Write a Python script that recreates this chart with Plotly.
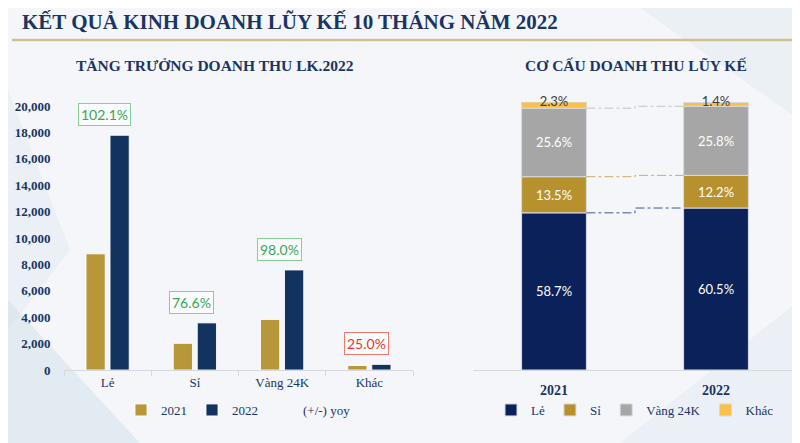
import numpy as np
import plotly.graph_objects as go

# ---------------- data ----------------
categories = ['Lẻ', 'Sỉ', 'Vàng 24K', 'Khác']
rev_2021 = [8800, 2020, 3830, 340]
rev_2022 = [17780, 3570, 7580, 425]
yoy_pct = [102.1, 76.6, 98.0, 25.0]

years = ['2021', '2022']
share_2021 = [58.7, 13.5, 25.6, 2.3]
share_2022 = [60.5, 12.2, 25.8, 1.4]

y_ticks = [0, 2000, 4000, 6000, 8000, 10000, 12000, 14000, 16000, 18000, 20000]

# ---------------- style ----------------
NAVY_TXT = '#1b3563'
GOLD = '#b8963a'
NAVY = '#12335f'
SEG_COLORS = ['#0a2159', '#b8912f', '#a6a6a6', '#f8c14a']
CONNECTOR_COLORS = ['#3f5a92', '#c9ad6a', '#c4c4c4']
SERIF = 'Liberation Serif'
SANS = 'Lato'

# page has an 8px body margin: the figure starts at (8, 8) in the window
OFF = 8
W, H = 800 - OFF, 443 - OFF


def px(x):
    return (x - OFF) / W


def py(y):
    return 1 - (y - OFF) / H


fig = go.Figure()

# ---------- left chart: grouped bars ----------
fig.add_trace(go.Bar(
    x=categories, y=rev_2021, name='2021', marker=dict(color=GOLD, line=dict(color='rgba(255,255,255,0.85)', width=1)),
    xaxis='x', yaxis='y', legend='legend', hoverinfo='skip'))
fig.add_trace(go.Bar(
    x=categories, y=rev_2022, name='2022', marker=dict(color=NAVY, line=dict(color='rgba(255,255,255,0.85)', width=1)),
    xaxis='x', yaxis='y', legend='legend', hoverinfo='skip'))
fig.add_trace(go.Scatter(
    x=[None], y=[None], name='(+/-) yoy', mode='markers',
    marker=dict(color='rgba(0,0,0,0)', size=1), xaxis='x', yaxis='y', legend='legend'))

for cat, v22, g in zip(categories, rev_2022, yoy_pct):
    good = g >= 50
    fig.add_annotation(
        x=cat, y=v22, xref='x', yref='y', text=f'{g:.1f}%', showarrow=False,
        yanchor='bottom', yshift=9, xshift=-3,
        font=dict(family=SANS, size=14, color='#3aa655' if good else '#e8352b'),
        bordercolor='#86d093' if good else '#f0786f', borderwidth=1, borderpad=2,
        bgcolor='rgba(255,255,255,0.55)')

# ---------- right chart: 100% stacked bars ----------
shares = np.array([share_2021, share_2022])  # rows = years, cols = segments
cum = np.cumsum(shares, axis=1)
base = cum - shares
xpos = np.arange(len(years))

for i, seg in enumerate(categories):
    show_text = i < len(categories) - 1
    fig.add_trace(go.Bar(
        x=xpos, y=shares[:, i], base=base[:, i], name=seg,
        width=0.4, offset=-0.2,
        marker=dict(color=SEG_COLORS[i], line=dict(color='rgba(215,218,225,1)', width=1)),
        text=[f'{v:.1f}%' for v in shares[:, i]] if show_text else None,
        textposition='inside', insidetextanchor='middle', constraintext='none', textangle=0,
        textfont=dict(family=SANS, size=13, color='white'),
        xaxis='x2', yaxis='y2', legend='legend2', hoverinfo='skip'))

# labels for the thin top segment
fig.add_trace(go.Scatter(
    x=xpos, y=base[:, -1] + shares[:, -1] / 2 + 0.8, mode='text',
    text=[f'{v:.1f}%' for v in shares[:, -1]],
    textfont=dict(family=SANS, size=13, color='#3d3d3d'),
    showlegend=False, xaxis='x2', yaxis='y2', hoverinfo='skip', cliponaxis=False))

# connectors between segment boundaries
for k in range(len(categories) - 1):
    fig.add_trace(go.Scatter(
        x=[xpos[0] + 0.2, xpos[1] - 0.2], y=[cum[0, k], cum[1, k]],
        mode='lines', line=dict(color=CONNECTOR_COLORS[k], width=1, dash='dashdot', shape='hvh'),
        showlegend=False, xaxis='x2', yaxis='y2', hoverinfo='skip'))

# ---------- background decoration ----------
shapes = [
    dict(type='path', xref='paper', yref='paper',
         path=f'M 0 {py(300)} L {px(140)} {py(443)} L 0 {py(443)} Z',
         fillcolor='rgba(190,208,225,0.30)', line=dict(width=0), layer='below'),
    dict(type='path', xref='paper', yref='paper',
         path=f'M 0 {py(90)} L {px(70)} {py(250)} L 0 {py(330)} Z',
         fillcolor='rgba(205,218,232,0.22)', line=dict(width=0), layer='below'),
    dict(type='path', xref='paper', yref='paper',
         path=f'M {px(620)} {py(443)} L {px(800)} {py(300)} L {px(800)} {py(443)} Z',
         fillcolor='rgba(205,218,232,0.22)', line=dict(width=0), layer='below'),
    dict(type='path', xref='paper', yref='paper',
         path=f'M {px(640)} {py(OFF)} L {px(800)} {py(OFF)} L {px(800)} {py(120)} Z',
         fillcolor='rgba(215,225,236,0.3)', line=dict(width=0), layer='below'),
    dict(type='line', xref='paper', yref='paper', x0=px(12), x1=1, y0=py(40), y1=py(40),
         line=dict(color='#cfc08e', width=2.5)),
]

annotations_extra = [
    dict(text='KẾT QUẢ KINH DOANH LŨY KẾ 10 THÁNG NĂM 2022', x=px(20), y=py(22), xref='paper', yref='paper',
         xanchor='left', yanchor='middle', showarrow=False,
         font=dict(family=SERIF, size=21, color=NAVY_TXT, weight=700)),
    dict(text='TĂNG TRƯỞNG DOANH THU LK.2022', x=px(214.5), y=py(65), xref='paper', yref='paper',
         xanchor='center', yanchor='middle', showarrow=False,
         font=dict(family=SERIF, size=15.5, color=NAVY_TXT, weight=700)),
    dict(text='CƠ CẤU DOANH THU LŨY KẾ', x=px(635.5), y=py(65), xref='paper', yref='paper',
         xanchor='center', yanchor='middle', showarrow=False,
         font=dict(family=SERIF, size=15.5, color=NAVY_TXT, weight=700)),
]
for a in annotations_extra:
    fig.add_annotation(**a)

fig.update_layout(
    width=W, height=H,
    margin=dict(l=0, r=0, t=0, b=0, pad=0, autoexpand=False),
    paper_bgcolor='#f4f6fa', plot_bgcolor='rgba(0,0,0,0)',
    barmode='group', bargap=0.45, bargroupgap=0.2,
    shapes=shapes,
    xaxis=dict(domain=[px(64), px(413)], type='category', showgrid=False, zeroline=False,
               showline=True, linecolor='#d6d9de', linewidth=1,
               ticks='outside', tickson='boundaries', ticklen=5, tickcolor='#d6d9de',
               tickfont=dict(family=SERIF, size=13, color=NAVY_TXT), fixedrange=True),
    yaxis=dict(domain=[py(370), py(106)], range=[0, 20000], tickvals=y_ticks,
               tickformat=',d', showgrid=False, zeroline=False, showline=False,
               ticks='outside', ticklen=10, tickcolor='rgba(0,0,0,0)',
               tickfont=dict(family=SERIF, size=13, color=NAVY_TXT, weight=700), fixedrange=True),
    xaxis2=dict(domain=[px(473), min(1.0, px(797))], range=[-0.5, 1.5], tickvals=list(xpos), ticktext=years,
                showgrid=False, zeroline=False, showline=True, linecolor='#d6d9de', linewidth=1,
                ticks='outside', ticklen=7, tickcolor='rgba(0,0,0,0)', anchor='y2',
                tickfont=dict(family=SERIF, size=14, color=NAVY_TXT, weight=700), fixedrange=True),
    yaxis2=dict(domain=[py(370), py(102.0)], range=[0, 100.1], visible=False, anchor='x2', fixedrange=True),
    legend=dict(orientation='h', x=px(238.5), xanchor='center', y=py(410), yanchor='middle',
                bgcolor='rgba(0,0,0,0)', font=dict(family=SERIF, size=13, color=NAVY_TXT),
                itemwidth=30, traceorder='normal'),
    legend2=dict(orientation='h', x=px(635), xanchor='center', y=py(410), yanchor='middle',
                 bgcolor='rgba(0,0,0,0)', font=dict(family=SERIF, size=13, color=NAVY_TXT),
                 itemwidth=30, traceorder='normal'),
    showlegend=True,
)

fig.write_html('out.html')
